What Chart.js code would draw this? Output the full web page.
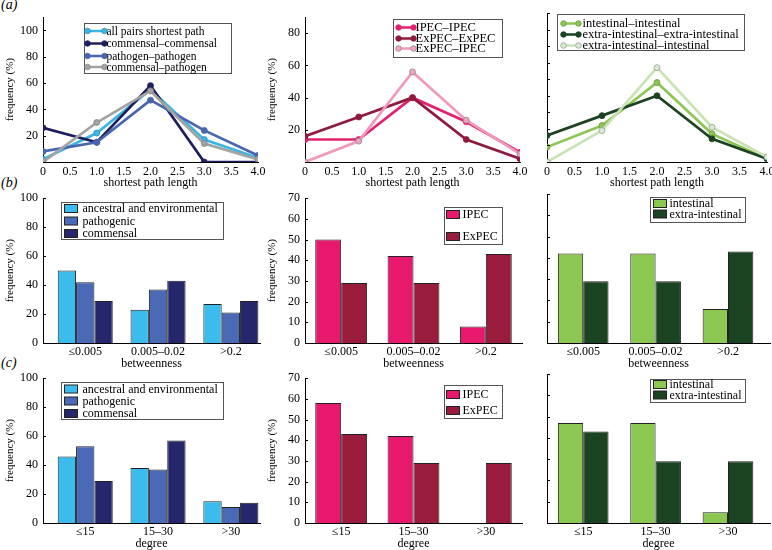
<!DOCTYPE html>
<html>
<head>
<meta charset="utf-8">
<script src="https://cdn.jsdelivr.net/npm/chart.js@4.4.0/dist/chart.umd.min.js"></script>
<style>
  body { margin: 0; background: #fff; }
  #wrap { position: relative; width: 772px; height: 550px; overflow: hidden; font-family: "Liberation Serif", serif; }
  canvas { position: absolute; }
  .tag { position: absolute; left: 1px; font-family: "Liberation Serif", serif; font-style: italic; font-size: 14px; }
</style>
</head>
<body>
<div id="wrap">
  <div class="tag" style="top:-3px">(a)</div>
  <div class="tag" style="top:175px">(b)</div>
  <div class="tag" style="top:355px">(c)</div>
  <canvas id="aL"></canvas><canvas id="aM"></canvas><canvas id="aR"></canvas>
  <canvas id="bL"></canvas><canvas id="bM"></canvas><canvas id="bR"></canvas>
  <canvas id="cL"></canvas><canvas id="cM"></canvas><canvas id="cR"></canvas>
</div>
<script>
// shortest path length distributions (%)
const pathLen = [0, 1, 2, 3, 4];
const allPairs = [2, 22, 55, 17, 3];
const commComm = [26, 15, 58, 0, 0];
const pathPath = [8, 15, 47, 24, 5];
const commPath = [0, 30, 54, 14, 2];
const ipecIpec = [14, 14, 40, 25, 6];
const expecExpec = [16, 28, 40, 14, 2];
const expecIpec = [0, 13, 56, 26, 5];
const intInt = [9, 22, 48, 17, 2];
const extExt = [16, 28, 40, 14, 2];
const extInt = [0, 19, 57, 21, 3];

// betweenness / degree bins (%)
const betweenCats = ['≤0.005', '0.005–0.02', '>0.2'];
const degreeCats = ['≤15', '15–30', '>30'];
const btwAncestral = [50, 23, 27];
const btwPathogenic = [42, 37, 21];
const btwCommensal = [29, 43, 29];
const btwIPEC = [50, 42, 8];
const btwExPEC = [29, 29, 43];
const btwIntestinal = [42, 42, 16];
const btwExtra = [29, 29, 43];
const degAncestral = [46, 38, 15];
const degPathogenic = [53, 37, 11];
const degCommensal = [29, 57, 14];
const degIPEC = [58, 42, 0];
const degExPEC = [43, 29, 29];
const degIntestinal = [47, 47, 5];
const degExtra = [43, 29, 29];

const FONT = 'Liberation Serif';
Chart.defaults.font.family = FONT;
Chart.defaults.font.size = 12;
Chart.defaults.color = '#000';

const YW = 43, PT = 8, PR = 12, XH = 28;

// small tick marks pointing into the plot, like matlab
const innerTicks = {
    id: 'innerTicks',
    afterDraw(chart) {
        const ctx = chart.ctx, a = chart.chartArea, y = chart.scales.y;
        ctx.save();
        ctx.strokeStyle = '#000';
        ctx.lineWidth = 1;
        y.ticks.forEach(t => {
            const py = Math.round(y.getPixelForValue(t.value)) + 0.5;
            ctx.beginPath();
            ctx.moveTo(a.left, py);
            ctx.lineTo(a.left + 3, py);
            ctx.stroke();
        });
        ctx.restore();
    }
};

// boxed legend placed inside the plot
function boxLegend(o) {
    return {
        id: 'boxLegend',
        afterDraw(chart) {
            const ctx = chart.ctx, a = chart.chartArea;
            const x0 = Math.round(a.left + o.dx) + 0.5, y0 = Math.round(a.top + o.dy) + 0.5;
            ctx.save();
            ctx.fillStyle = '#fff';
            ctx.fillRect(x0, y0, o.w, o.h);
            ctx.strokeStyle = '#555';
            ctx.lineWidth = 1;
            ctx.strokeRect(x0, y0, o.w, o.h);
            ctx.font = (o.fs || 12) + 'px "' + FONT + '"';
            ctx.textBaseline = 'middle';
            chart.data.datasets.forEach((ds, i) => {
                const y = y0 + o.rows[i];
                if (o.kind === 'line') {
                    ctx.strokeStyle = ds.borderColor;
                    ctx.lineWidth = 2.5;
                    ctx.beginPath();
                    ctx.moveTo(x0 + o.mx, y);
                    ctx.lineTo(x0 + o.mx + o.ml, y);
                    ctx.stroke();
                    [x0 + o.mx, x0 + o.mx + o.ml].forEach(px => {
                        ctx.beginPath();
                        ctx.arc(px, y, 2.8, 0, Math.PI * 2);
                        ctx.fillStyle = ds.pointBackgroundColor;
                        ctx.fill();
                        ctx.lineWidth = 0.8;
                        ctx.strokeStyle = ds.pointBorderColor;
                        ctx.stroke();
                    });
                } else {
                    ctx.fillStyle = ds.backgroundColor;
                    ctx.fillRect(x0 + o.mx, y - 4, 13, 8);
                    ctx.lineWidth = 1;
                    ctx.strokeStyle = '#222';
                    ctx.strokeRect(x0 + o.mx, y - 4, 13, 8);
                }
                ctx.fillStyle = '#000';
                ctx.fillText(ds.label, x0 + o.tx, y + 0.5);
            });
            ctx.restore();
        }
    };
}

function place(id, p) {
    const cv = document.getElementById(id);
    cv.width = p.r - p.l + YW + PR;
    cv.height = p.b - p.t + PT + XH;
    cv.style.left = (p.l - YW) + 'px';
    cv.style.top = (p.t - PT) + 'px';
    return cv;
}

function yScale(max, step, showLabels, hideZero, title) {
    return {
        type: 'linear', min: 0, max: max,
        afterFit: s => { s.width = YW; },
        grid: { display: false, drawTicks: false },
        border: { display: true, color: '#000', width: 1 },
        ticks: {
            display: showLabels, stepSize: step, includeBounds: false, padding: 5,
            callback: v => (hideZero && v === 0) ? '' : v
        },
        title: {
            display: !!title, text: title, font: { size: 11 },
            padding: { top: 4, bottom: 0 }
        }
    };
}

function lineChart(id, p, sets, yMax, showY, legend) {
    const cv = place(id, p);
    return new Chart(cv, {
        type: 'line',
        data: {
            datasets: sets.map((s, i) => ({
                label: s.label,
                data: pathLen.map((x, k) => ({ x: x, y: s.values[k] })),
                borderColor: s.color,
                borderWidth: 2.7,
                pointRadius: 3,
                pointBackgroundColor: s.fill || s.color,
                pointBorderColor: s.edge || s.color,
                pointBorderWidth: 0.8,
                tension: 0,
                order: -i
            }))
        },
        options: {
            responsive: false, animation: false, devicePixelRatio: 1,
            layout: { padding: { left: 0, top: PT, right: PR, bottom: 0 } },
            plugins: { legend: { display: false }, tooltip: { enabled: false } },
            scales: {
                x: {
                    type: 'linear', min: 0, max: 4, offset: false,
                    afterFit: s => { s.height = XH; },
                    grid: { display: false, drawTicks: false },
                    border: { display: true, color: '#000', width: 1 },
                    ticks: { stepSize: 0.5, padding: 3, maxRotation: 0,
                             callback: v => v === 0 ? '0' : v.toFixed(1) },
                    title: { display: true, text: 'shortest path length', padding: { top: 0, bottom: 0 } }
                },
                y: yScale(yMax, yMax > 100 ? 20 : 10, showY, true, showY ? 'frequency (%)' : '')
            }
        },
        plugins: [innerTicks, boxLegend(legend)]
    });
}

function barChart(id, p, cats, xTitle, xMin, xMax, catPct, sets, yMax, showY, legend) {
    const cv = place(id, p);
    return new Chart(cv, {
        type: 'bar',
        data: {
            datasets: sets.map(s => ({
                label: s.label,
                data: cats.map((c, k) => ({ x: k + 1, y: s.values[k] })),
                backgroundColor: s.color,
                borderColor: '#222',
                borderWidth: 1,
                categoryPercentage: catPct,
                barPercentage: 1
            }))
        },
        options: {
            responsive: false, animation: false, devicePixelRatio: 1,
            layout: { padding: { left: 0, top: PT, right: PR, bottom: 0 } },
            plugins: { legend: { display: false }, tooltip: { enabled: false } },
            scales: {
                x: {
                    type: 'linear', min: xMin, max: xMax, offset: false,
                    afterFit: s => { s.height = XH; },
                    afterBuildTicks: s => { s.ticks = cats.map((c, k) => ({ value: k + 1 })); },
                    grid: { display: false, drawTicks: false },
                    border: { display: true, color: '#000', width: 1 },
                    ticks: { padding: 2, maxRotation: 0, autoSkip: false,
                             callback: (v, i) => cats[i] },
                    title: { display: true, text: xTitle, padding: { top: 0, bottom: 0 } }
                },
                y: yScale(yMax, yMax > 70 ? 20 : 10, showY, false, showY ? 'frequency (%)' : '')
            }
        },
        plugins: [innerTicks, boxLegend(legend)]
    });
}

const cBlue = '#3cbcec', cMid = '#4a6ab6', cNavy = '#25266b';
const cPink = '#e8196c', cMaroon = '#9a1c3c';
const cGreen = '#8cc752', cDark = '#1a4321';

function drawAll() {
    // row (a)
    lineChart('aL', { l: 43, t: 13, r: 258, b: 162 }, [
        { label: 'all pairs shortest path', values: allPairs, color: '#3cb6e3', edge: '#2a8fb8' },
        { label: 'commensal–commensal', values: commComm, color: '#1f1f5e' },
        { label: 'pathogen–pathogen', values: pathPath, color: '#4865b0' },
        { label: 'commensal–pathogen', values: commPath, color: '#a3a3a3', edge: '#888' }
    ], 110, true, { kind: 'line', dx: 41, dy: 6, w: 147, h: 50, rows: [7.5, 20, 32.5, 43.5], mx: 3, ml: 17, tx: 22, fs: 11.5 });

    lineChart('aM', { l: 305, t: 13, r: 520, b: 162 }, [
        { label: 'IPEC–IPEC', values: ipecIpec, color: '#e2226e' },
        { label: 'ExPEC–ExPEC', values: expecExpec, color: '#8e1b3e' },
        { label: 'ExPEC–IPEC', values: expecIpec, color: '#f198bc', fill: '#f0a4c2', edge: '#8a8a8a' }
    ], 90, true, { kind: 'line', dx: 88, dy: 2, w: 109, h: 38, rows: [8, 19, 29], mx: 5, ml: 15, tx: 22, fs: 12.5 });

    lineChart('aR', { l: 547, t: 13, r: 767, b: 162 }, [
        { label: 'intestinal–intestinal', values: intInt, color: '#8cc653', edge: '#6a9a40' },
        { label: 'extra-intestinal–extra-intestinal', values: extExt, color: '#1b4322' },
        { label: 'extra-intestinal–intestinal', values: extInt, color: '#c9e3b5', fill: '#d8ecd0', edge: '#999' }
    ], 90, false, { kind: 'line', dx: 10, dy: 1, w: 187, h: 36, rows: [9, 20, 31], mx: 6, ml: 15, tx: 25, fs: 12.5 });

    // row (b)
    barChart('bL', { l: 43, t: 194, r: 260, b: 343 }, betweenCats, 'betweenness', 0.42, 3.4, 0.756, [
        { label: 'ancestral and environmental', values: btwAncestral, color: cBlue },
        { label: 'pathogenic', values: btwPathogenic, color: cMid },
        { label: 'commensal', values: btwCommensal, color: cNavy }
    ], 100, true, { kind: 'bar', dx: 18, dy: 4, w: 162, h: 37, rows: [6, 18.5, 31], mx: 3, tx: 21 });

    barChart('bM', { l: 305, t: 194, r: 522, b: 343 }, betweenCats, 'betweenness', 0.5, 3.5, 0.717, [
        { label: 'IPEC', values: btwIPEC, color: cPink },
        { label: 'ExPEC', values: btwExPEC, color: cMaroon }
    ], 70, true, { kind: 'bar', dx: 139, dy: 9, w: 58, h: 37, rows: [7, 29], mx: 2, tx: 18 });

    barChart('bR', { l: 547, t: 194, r: 770, b: 343 }, betweenCats, 'betweenness', 0.5, 3.58, 0.70, [
        { label: 'intestinal', values: btwIntestinal, color: cGreen },
        { label: 'extra-intestinal', values: btwExtra, color: cDark }
    ], 70, false, { kind: 'bar', dx: 103, dy: 3, w: 95, h: 25, rows: [6, 16.5], mx: 3, tx: 19 });

    // row (c)
    barChart('cL', { l: 43, t: 374, r: 260, b: 523 }, degreeCats, 'degree', 0.42, 3.4, 0.756, [
        { label: 'ancestral and environmental', values: degAncestral, color: cBlue },
        { label: 'pathogenic', values: degPathogenic, color: cMid },
        { label: 'commensal', values: degCommensal, color: cNavy }
    ], 100, true, { kind: 'bar', dx: 18, dy: 4, w: 162, h: 37, rows: [6.5, 18.5, 31], mx: 3, tx: 21 });

    barChart('cM', { l: 305, t: 374, r: 522, b: 523 }, degreeCats, 'degree', 0.5, 3.5, 0.717, [
        { label: 'IPEC', values: degIPEC, color: cPink },
        { label: 'ExPEC', values: degExPEC, color: cMaroon }
    ], 70, true, { kind: 'bar', dx: 139, dy: 7, w: 58, h: 33, rows: [9, 25], mx: 2, tx: 18 });

    barChart('cR', { l: 547, t: 374, r: 770, b: 523 }, degreeCats, 'degree', 0.5, 3.58, 0.70, [
        { label: 'intestinal', values: degIntestinal, color: cGreen },
        { label: 'extra-intestinal', values: degExtra, color: cDark }
    ], 70, false, { kind: 'bar', dx: 103, dy: 5, w: 95, h: 23, rows: [5, 15.5], mx: 3, tx: 19 });
}

// make sure the serif face is ready before the canvases measure text
if (document.fonts && document.fonts.load) {
    Promise.all([
        document.fonts.load('12px "' + FONT + '"'),
        document.fonts.load('italic 14px "' + FONT + '"')
    ]).then(drawAll, drawAll);
} else {
    drawAll();
}
</script>
</body>
</html>
